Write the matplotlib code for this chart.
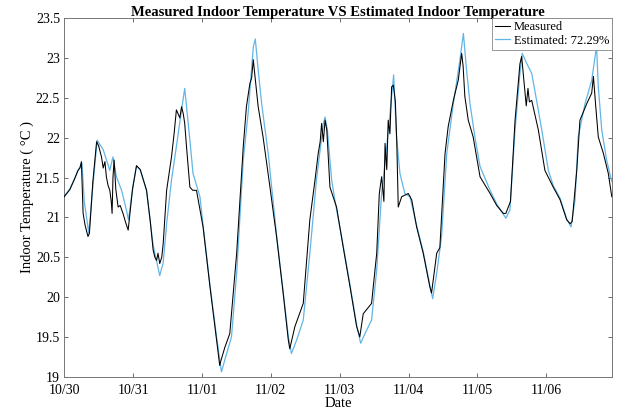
import matplotlib
matplotlib.use("Agg")
import matplotlib.pyplot as plt

plt.rcParams['font.family'] = ['Liberation Serif', 'DejaVu Serif']

day_labels = ['10/30', '10/31', '11/01', '11/02', '11/03', '11/04', '11/05', '11/06']

# hours since 10/30 00:00
meas_hours = [0, 2.0, 3.7, 4.8, 5.5, 6.0, 6.6, 7.3, 8.3, 8.8, 10.0, 11.3, 12.0, 13.0, 13.6,
              14.2, 14.7, 15.3, 15.9, 16.4, 16.7, 17.0, 17.4, 18.0, 18.8, 19.5, 20.5, 21.3,
              22.3, 23.8, 25.2, 26.5, 28.7, 30.0, 31.0, 31.6, 32.2, 32.7, 33.3, 34.0, 34.5,
              35.7, 37.4, 38.3, 39.1, 39.7, 40.3, 40.9, 41.5, 42.0, 42.6, 43.8, 44.8, 46.1,
              48.4, 50.8, 53.1, 54.2, 54.6, 56.0, 57.7, 60.1, 62.4, 63.5, 64.7, 65.3, 65.9,
              66.4, 67.6, 69.3, 71.7, 74.0, 76.3, 78.1, 78.6, 80.4, 83.3, 85.6, 87.4, 88.5,
              89.2, 89.7, 90.3, 90.9, 91.5, 92.6, 94.9, 97.2, 99.6, 101.9, 103.0, 104.2,
              107.1, 108.9, 109.8, 110.6, 111.4, 111.8, 112.4, 112.9, 113.5, 114.1, 114.7,
              115.4, 115.9, 116.4, 117.6, 119.9, 121.1, 122.8, 125.1, 127.4, 128.0, 129.8,
              130.9, 132.7, 133.8, 135.6, 137.3, 138.5, 139.0, 139.6, 140.8, 142.5, 144.9,
              148.4, 150.7, 153.0, 153.9, 155.5, 157.1, 158.8, 159.4, 160.6, 161.0, 161.6,
              162.1, 162.9, 165.2, 167.5, 170.4, 172.8, 175.1, 176.3, 177.0, 178.6, 179.7,
              182.1, 183.8, 184.4, 185.2, 186.1, 187.9, 189.6, 190.8]
meas_temp = [21.26, 21.35, 21.49, 21.59, 21.62, 21.70, 21.05, 20.90, 20.76, 20.80, 21.45,
             21.95, 21.90, 21.76, 21.62, 21.70, 21.51, 21.40, 21.34, 21.20, 21.05, 21.50,
             21.72, 21.35, 21.13, 21.15, 21.05, 20.95, 20.84, 21.35, 21.65, 21.60, 21.34,
             20.95, 20.59, 20.50, 20.46, 20.55, 20.42, 20.50, 20.67, 21.34, 21.76, 22.05,
             22.35, 22.30, 22.25, 22.39, 22.30, 22.18, 21.90, 21.38, 21.34, 21.34, 20.88,
             20.13, 19.46, 19.14, 19.20, 19.37, 19.54, 20.55, 21.89, 22.39, 22.68, 22.75,
             22.98, 22.80, 22.39, 22.01, 21.38, 20.76, 20.05, 19.46, 19.35, 19.63, 19.92,
             20.97, 21.47, 21.80, 21.95, 22.18, 21.95, 22.22, 22.10, 21.38, 21.13, 20.63,
             20.13, 19.63, 19.50, 19.79, 19.92, 20.55, 21.30, 21.51, 21.20, 21.93, 21.60,
             22.22, 22.05, 22.64, 22.66, 22.45, 21.93, 21.13, 21.26, 21.30, 21.22, 20.88,
             20.55, 20.13, 20.05, 20.55, 20.62, 21.80, 22.14, 22.47, 22.72, 23.06, 22.90,
             22.52, 22.22, 22.01, 21.51, 21.30, 21.15, 21.05, 21.05, 21.20, 22.22, 22.93,
             23.02, 22.56, 22.40, 22.62, 22.45, 22.47, 22.10, 21.59, 21.38, 21.22, 20.97,
             20.92, 20.95, 21.59, 22.22, 22.43, 22.56, 22.77, 22.40, 22.01, 21.80, 21.55,
             21.26]

est_hours = [0, 2.0, 3.7, 5.0, 6.2, 7.0, 8.6, 10.0, 11.5, 13.6, 15.9, 17.0, 18.2, 20.0,
             21.7, 22.4, 24.0, 25.2, 26.5, 28.7, 31.0, 33.3, 34.5, 35.7, 37.4, 39.1, 40.9,
             42.0, 43.8, 44.9, 47.3, 48.4, 50.8, 53.1, 54.8, 56.6, 58.3, 60.1, 62.4, 64.1,
             65.9, 66.6, 67.6, 68.8, 71.1, 74.0, 76.3, 78.1, 79.2, 81.0, 83.3, 85.6, 87.9,
             90.3, 90.9, 91.7, 93.2, 94.3, 97.2, 99.6, 101.9, 103.3, 104.8, 107.1, 108.9,
             110.6, 112.4, 114.1, 114.8, 115.8, 117.0, 118.7, 120.5, 122.8, 125.1, 127.4,
             128.4, 129.8, 131.5, 133.3, 135.6, 137.9, 139.1, 140.2, 141.4, 143.1, 144.9,
             148.4, 150.7, 153.0, 153.9, 155.3, 157.1, 158.8, 159.6, 161.2, 162.9, 164.6,
             166.4, 168.7, 170.4, 172.8, 175.1, 176.6, 178.0, 179.1, 181.5, 183.8, 185.5,
             186.1, 187.3, 189.0, 190.8]
est_temp = [21.26, 21.36, 21.49, 21.60, 21.68, 21.20, 20.80, 21.40, 21.97, 21.85, 21.59,
            21.76, 21.51, 21.34, 21.09, 20.97, 21.40, 21.64, 21.60, 21.34, 20.65, 20.27,
            20.43, 20.92, 21.47, 21.89, 22.35, 22.62, 21.97, 21.55, 21.26, 20.90, 20.15,
            19.50, 19.06, 19.29, 19.50, 20.30, 21.72, 22.31, 23.14, 23.24, 22.85, 22.43,
            21.80, 20.78, 20.07, 19.50, 19.29, 19.46, 19.71, 20.55, 21.47, 22.18, 22.26,
            22.10, 21.47, 21.22, 20.65, 20.15, 19.65, 19.42, 19.54, 19.71, 20.34, 21.30,
            21.89, 22.52, 22.79, 22.01, 21.55, 21.30, 21.26, 20.90, 20.57, 20.15, 19.98,
            20.30, 20.76, 21.80, 22.43, 22.98, 23.31, 22.85, 22.43, 22.01, 21.64, 21.34,
            21.17, 21.04, 20.99, 21.09, 22.10, 22.81, 23.06, 22.93, 22.81, 22.47, 22.10,
            21.59, 21.40, 21.24, 20.98, 20.88, 21.22, 22.01, 22.43, 22.72, 23.15, 22.64,
            22.10, 21.72, 21.45]

fig = plt.figure(figsize=(6.17, 4.11), dpi=100)
ax = fig.add_axes([0.104, 0.0835, 0.888, 0.872])

ax.plot(meas_hours, meas_temp, color='black', lw=0.75, label='Measured', zorder=3)
ax.plot(est_hours, est_temp, color='#62B6E6', lw=0.9, label='Estimated: 72.29%', zorder=2)

ax.set_xlim(0, 190.9)
ax.set_ylim(19, 23.5)
ax.set_xticks([24 * i for i in range(len(day_labels))])
ax.set_xticklabels(day_labels)
ax.set_yticks([19, 19.5, 20, 20.5, 21, 21.5, 22, 22.5, 23, 23.5])
ax.set_yticklabels(['19', '19.5', '20', '20.5', '21', '21.5', '22', '22.5', '23', '23.5'])
ax.tick_params(direction='in', top=True, right=True, length=3, width=0.6,
               color='#555555', labelsize=10)
ax.tick_params(axis='x', pad=5)
ax.tick_params(axis='y', pad=3)
for s in ax.spines.values():
    s.set_color('#777777')
    s.set_linewidth(0.7)

ax.set_title('Measured Indoor Temperature VS Estimated Indoor Temperature',
             fontsize=10.5, fontweight='bold', pad=2)
ax.set_xlabel('Date', fontsize=10.5, labelpad=0)
ax.set_ylabel('Indoor Temperature ( °C )', fontsize=10.5, labelpad=1.5)

leg = ax.legend(loc='upper right', fontsize=9, handlelength=1.2, handletextpad=0.3,
                borderpad=0.25, labelspacing=0.1, borderaxespad=0.0, fancybox=False,
                framealpha=1)
leg.get_frame().set_edgecolor('#888888')
leg.get_frame().set_linewidth(0.6)

fig.savefig('out.png', dpi=100)
